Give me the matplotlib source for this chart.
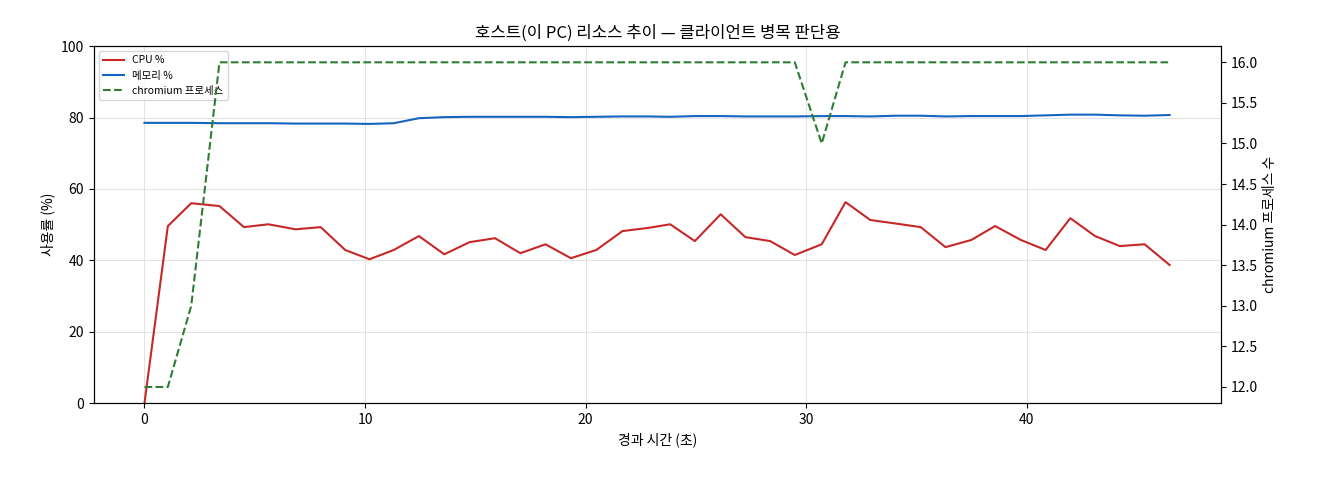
import matplotlib
matplotlib.use("Agg")
import matplotlib.pyplot as plt

plt.rcParams['font.family'] = ['Noto Sans CJK KR', 'DejaVu Sans']

t = [0,1.06,2.12,3.40,4.51,5.61,6.85,7.99,9.10,10.20,11.30,12.44,13.59,14.74,15.89,17.04,18.18,19.33,20.48,21.67,22.85,23.83,24.95,26.12,27.24,28.36,29.48,30.70,31.78,32.90,34.07,35.19,36.31,37.48,38.56,39.73,40.85,41.97,43.09,44.21,45.34,46.47]
cpu = [0,49.6,56,55.2,49.3,50.1,48.7,49.3,42.9,40.3,42.9,46.8,41.7,45.1,46.2,42,44.5,40.6,42.9,48.2,49.1,50.1,45.4,52.9,46.5,45.4,41.5,44.5,56.3,51.3,50.3,49.3,43.7,45.7,49.6,45.7,42.9,51.8,46.8,44,44.5,38.7]
mem = [78.5,78.5,78.5,78.4,78.4,78.4,78.3,78.3,78.3,78.2,78.4,79.8,80.1,80.2,80.2,80.2,80.2,80.1,80.2,80.3,80.3,80.2,80.4,80.4,80.3,80.3,80.3,80.4,80.4,80.3,80.5,80.5,80.3,80.4,80.4,80.4,80.6,80.8,80.8,80.6,80.5,80.7]
proc = [12,12,13,16,16,16,16,16,16,16,16,16,16,16,16,16,16,16,16,16,16,16,16,16,16,16,16,15,16,16,16,16,16,16,16,16,16,16,16,16,16,16]

fig = plt.figure(figsize=(13.2, 4.8), dpi=100)
ax = fig.add_axes([0.071, 0.16, 0.854, 0.744])
l1, = ax.plot(t, cpu, color='#c62828', lw=1.5, label='CPU %')
l2, = ax.plot(t, mem, color='#1565c0', lw=1.5, label='메모리 %')
ax.set_ylim(0, 100)
ax.set_xlim(-2.3, 48.8)
ax.grid(True, color='#dddddd', lw=0.8, alpha=0.8)
ax.set_xlabel('경과 시간 (초)')
ax.set_ylabel('사용률 (%)')
ax.set_title('호스트(이 PC) 리소스 추이 — 클라이언트 병목 판단용')
ax2 = ax.twinx()
l3, = ax2.plot(t, proc, color='#2e7d32', lw=1.5, ls='--', label='chromium 프로세스')
ax2.set_ylim(11.8, 16.2)
ax2.set_ylabel('chromium 프로세스 수')
ax.legend(handles=[l1, l2, l3], loc='upper left', fontsize=7.5)
fig.savefig('out.png', dpi=100)
